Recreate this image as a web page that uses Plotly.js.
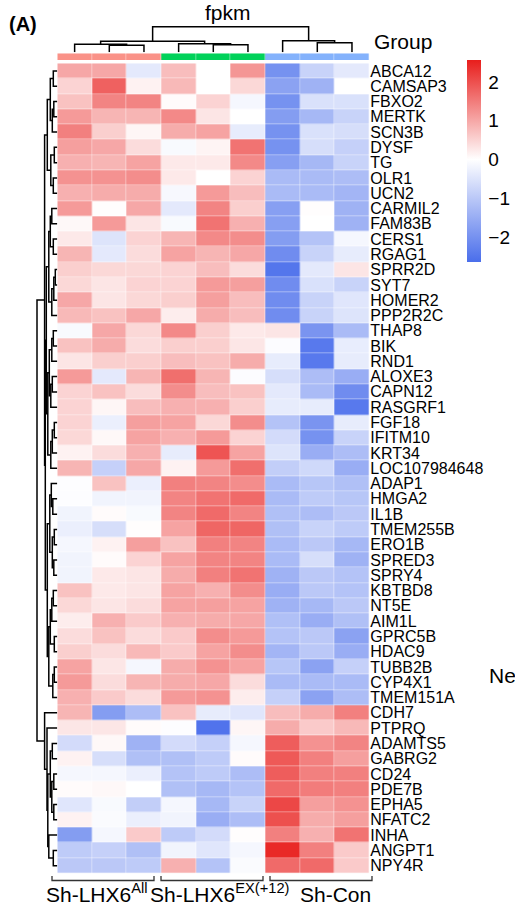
<!DOCTYPE html>
<html><head><meta charset="utf-8">
<script src="https://cdn.plot.ly/plotly-3.0.1.min.js"></script>
<style>html,body{margin:0;padding:0;background:#fff;}#chart{width:515px;height:911px;}</style>
</head><body><div id="chart"></div>
<script>
// ---------------- data ----------------
const genes = ['ABCA12','CAMSAP3','FBXO2','MERTK','SCN3B','DYSF','TG','OLR1','UCN2','CARMIL2',
 'FAM83B','CERS1','RGAG1','SPRR2D','SYT7','HOMER2','PPP2R2C','THAP8','BIK','RND1',
 'ALOXE3','CAPN12','RASGRF1','FGF18','IFITM10','KRT34','LOC107984648','ADAP1','HMGA2','IL1B',
 'TMEM255B','ERO1B','SPRED3','SPRY4','KBTBD8','NT5E','AIM1L','GPRC5B','HDAC9','TUBB2B',
 'CYP4X1','TMEM151A','CDH7','PTPRQ','ADAMTS5','GABRG2','CD24','PDE7B','EPHA5','NFATC2',
 'INHA','ANGPT1','NPY4R'];
const sampleGroup = [0,0,0,1,1,1,2,2,2];
const groupLabels = ['Sh-LHX6<sup>All</sup>','Sh-LHX6<sup>EX(+12)</sup>','Sh-Con'];
const groupColors = ['#FA9288','#00D25A','#84B2FC'];
const colorbarTicks = [-2,-1,0,1,2];
const colorbarTickText = ['\u22122','\u22121','0','1','2'];

// z-scores per sample (rows in gene order)
const All_1 = [1.0,0.5,0.7,1.15,1.45,1.1,0.9,1.25,0.9,1.15, 0.08,0.25,0.85,0.55,0.45,1.0,0.8,-0.1,0.7,0.3,
 1.15,0.5,0.5,0.5,0.45,0.15,0.85,-0.03,-0.03,-0.2, -0.3,-0.15,-0.2,-0.2,0.7,0.45,0.2,0.4,0.55,1.05,
 1.15,0.9,0.85,0.28,-0.65,0.15,-0.15,0.05,-0.45,0.15, -1.8,-0.95,-1.0];
const All_2 = [1.0,1.8,1.4,0.85,0.55,1.0,0.85,1.25,0.95,0.02, 1.15,-0.5,-0.4,0.45,0.3,0.3,0.7,1.0,0.95,0.55,
 -0.4,0.7,0.1,-0.3,0.08,0.4,-0.85,0.7,-0.2,0.05, -0.6,0.15,0.05,0.25,0.25,0.3,0.9,0.7,0.4,0.28,
 0.4,0.6,-1.8,0.28,0.08,-0.6,-0.15,0.08,-0.1,-0.08, -0.15,-0.85,-1.0];
const All_3 = [-0.4,0.15,1.4,0.85,0.1,0.4,1.05,1.3,0.95,1.0, 0.3,0.5,0.4,0.45,0.5,0.45,1.0,0.45,0.4,0.55,
 0.85,0.4,0.75,1.1,1.05,0.9,1.0,-0.3,-0.2,-0.1, 0.02,1.1,0.5,0.3,0.3,0.4,0.6,0.4,0.8,-0.15,
 0.85,0.4,-1.2,0.05,-1.4,-1.15,-0.3,0,-0.9,-0.3, 0.6,-1.15,-0.95];
const EX_1 = [0.75,0.8,0.05,1.35,0.95,-0.1,0.25,0.25,-0.12,-0.4, -0.1,0.85,1.05,0.5,0.5,0.55,0.2,1.35,0.55,0.75,
 1.65,1.3,0.9,1.05,0.9,-0.35,0.15,1.45,1.4,1.4, 1.05,0.7,1.05,0.95,1.05,1.05,0.9,0.6,0.6,0.95,
 0.95,1.15,0.7,-0.03,-0.65,-1.15,-1.1,-1.15,-0.15,-0.2, -0.95,-0.2,0.9];
const EX_2 = [0,0,0.5,0.3,1.05,0.12,0.25,0,1.15,1.4, 1.6,1.35,0.85,0.75,1.15,1.1,0.95,0.55,0.55,0.7,
 0.85,0.75,0.9,0.45,1.15,1.95,1.15,1.4,1.6,1.7, 1.75,1.45,1.4,1.45,0.9,1.1,0.95,1.3,1.05,1.25,
 1.0,1.25,-0.35,-2.55,-0.85,-0.95,-0.95,-1.3,-1.3,-1.5, -0.65,-0.45,-1.1];
const EX_3 = [1.2,0.45,-0.15,0,-0.35,1.6,1.35,0.5,0.75,0.55, 0.9,1.3,1.0,0.4,1.1,0.75,0.75,0.25,0.28,0.95,
 -0.05,0.7,0.55,1.3,0.5,1.05,1.65,1.3,1.7,1.4, 1.75,1.4,1.4,1.6,1.3,1.05,1.0,1.15,1.3,1.05,
 0.4,0.2,-0.45,0.1,-0.15,0.05,-1.2,-1.1,-0.8,-1.2, 0.02,-0.15,-0.08];
const Con_1 = [-2.0,-1.7,-2.0,-1.8,-2.0,-2.0,-1.75,-1.25,-1.25,-1.75, -1.75,-1.8,-2.1,-2.5,-2.1,-2.1,-2.1,0.3,-0.05,-0.35,
 -0.6,-0.4,-0.35,-1.1,-0.65,-0.5,-0.9,-1.25,-1.25,-1.15, -1.15,-1.25,-1.25,-1.4,-1.5,-1.4,-1.15,-1.1,-1.35,-1.05,
 -1.25,-0.85,0.75,0.95,1.85,1.9,1.85,1.7,2.1,2.0, 1.45,2.45,1.7];
const Con_2 = [-0.8,-1.4,-0.55,-1.3,-0.55,-0.6,-1.3,-1.25,-1.25,0.02, 0,-1.1,-0.8,-0.4,-0.55,-0.8,-0.8,-1.95,-2.45,-2.45,
 -1.2,-1.25,-0.35,-1.95,-2.0,-1.5,-0.7,-1.05,-0.95,-1.2, -0.8,-1.0,-0.6,-1.0,-1.0,-1.3,-1.5,-1.0,-1.0,-1.7,
 -1.25,-1.7,0.95,0.6,1.25,1.45,1.45,1.5,1.1,0.95, 0.9,1.45,1.7];
const Con_3 = [-0.4,0,-0.55,-0.8,-0.6,-0.85,-0.8,-1.2,-1.35,-1.4, -1.4,-0.15,-0.35,0.3,-0.8,-0.45,-0.5,-1.25,-0.33,-0.35,
 -1.5,-2.1,-2.45,-0.35,-0.8,-1.2,-1.5,-1.15,-1.05,-1.0, -0.95,-1.3,-1.4,-1.1,-1.1,-1.0,-1.15,-1.7,-1.5,-0.85,
 -1.25,-1.2,1.45,0.8,1.4,1.1,1.45,1.45,1.25,1.1, 1.6,0.6,0.6];

// dendrogram trees: [left, right, height]; leaves are row / column indices
const A1 = [[[0,1,4],[[2,3,3.5],4,5],7],[[5,6,3],[7,8,4],6.5],10];
const A2 = [[[9,10,5.5],[11,12,4],7],[[[13,14,2],15,3.5],16,5.5],8.5];
const A3 = [[[[17,18,4],19,5.5],[[20,21,5],22,6.5],8],[[[23,24,3],25,5],26,6.5],9.5];
const A4 = [[[27,[28,29,4.5],6],[[30,31,3],[32,33,3.5],5],7.5],[[[[34,35,4],36,5.5],[37,38,3],7],[[39,40,3],41,4.5],8.5],10];
const clusterA = [A1,[[A2,A3,11],A4,12],12.7];
const clusterB = [42,[43,[[[44,45,5],[[46,47,3.5],[48,49,3.5],5.5],7],[50,[51,52,4],8.5],9.5],10.3],12.7];
const rowTree = [clusterA, clusterB, 20.3];
const colTree = [[[0,[1,2,7],8],[3,[4,5,7.5],8.5],11],[6,[7,8,9.6],11.6],25.6];

// ---------------- build ----------------
const W = 515, H = 911;
const fx = p => p / W, fy = p => 1 - p / H;
const FONT = 'Liberation Sans, Arial, Helvetica, sans-serif';
const sampleCols = [All_1, All_2, All_3, EX_1, EX_2, EX_3, Con_1, Con_2, Con_3];
const z = genes.map((g, i) => sampleCols.map(c => c[i]));
const zmin = -2.65, zmax = 2.57, mid = -zmin / (zmax - zmin);

function dendro(node, segs) {
  if (typeof node === 'number') return {p: node, h: 0};
  const L = dendro(node[0], segs), R = dendro(node[1], segs), h = node[2];
  segs.push([[L.p, L.h], [L.p, h], [R.p, h], [R.p, R.h]]);
  return {p: (L.p + R.p) / 2, h: h};
}
const rowSegs = [], colSegs = [];
dendro(rowTree, rowSegs); dendro(colTree, colSegs);
const rdx = [], rdy = [], cdx = [], cdy = [];
rowSegs.forEach(s => { s.forEach(pt => { rdx.push(pt[1]); rdy.push(pt[0]); }); rdx.push(null); rdy.push(null); });
colSegs.forEach(s => { s.forEach(pt => { cdx.push(pt[0]); cdy.push(pt[1]); }); cdx.push(null); cdy.push(null); });

const traces = [
  {type:'heatmap', z: z, x: sampleCols.map((c,j)=>j), y: genes.map((g,i)=>i), xaxis:'x', yaxis:'y',
   zmin: zmin, zmax: zmax, xgap:0.4, ygap:0.4,
   colorscale: [[0,'#4A6EEB'],[mid,'#FFFFFF'],[1,'#E81E1C']],
   colorbar: {x: fx(467), xanchor:'left', xref:'paper', y: fy(60), yanchor:'top', yref:'paper',
     len: 202, lenmode:'pixels', thickness: 14, thicknessmode:'pixels', outlinewidth: 0, xpad:0, ypad:0,
     tickmode:'array', tickvals: colorbarTicks, ticktext: colorbarTickText, ticks:'outside', ticklen:4,
     tickcolor:'rgba(0,0,0,0)', tickfont:{family: FONT, size: 19, color:'#000'}}},
  {type:'heatmap', z: [sampleGroup], x: sampleGroup.map((g,j)=>j), y:[0], xaxis:'x', yaxis:'y2',
   zmin:0, zmax:2, showscale:false, xgap:0.4,
   colorscale: [[0,groupColors[0]],[0.333,groupColors[0]],[0.334,groupColors[1]],[0.666,groupColors[1]],[0.667,groupColors[2]],[1,groupColors[2]]]},
  {type:'scatter', mode:'lines', x: rdx, y: rdy, xaxis:'x3', yaxis:'y', cliponaxis:false,
   line:{color:'#000', width:1.5}, hoverinfo:'skip', connectgaps:false},
  {type:'scatter', mode:'lines', x: cdx, y: cdy, xaxis:'x', yaxis:'y4', cliponaxis:false,
   line:{color:'#000', width:1.5}, hoverinfo:'skip', connectgaps:false}
];

const hidden = {showgrid:false, zeroline:false, showticklabels:false, ticks:'', showline:false};
const annBase = {showarrow:false, xref:'paper', yref:'paper', xanchor:'left', yanchor:'bottom', borderpad:1};
function ann(text, leftPx, baselinePx, size, extra) {
  return Object.assign({}, annBase, {text: text, x: fx(leftPx - 1), y: fy(baselinePx + 0.212*size + 1),
    font:{family: FONT, size: size, color:'#000'}}, extra || {});
}
const annotations = [
  ann('<b>(A)</b>', 8, 31.5, 20),
  ann('fpkm', 204, 21, 21),
  ann('Group', 372.5, 50, 21),
  ann('Ne', 488, 684, 21),
  ann(groupLabels[0], 45, 902.7, 21),
  ann(groupLabels[1], 149, 902.7, 21),
  ann(groupLabels[2], 299, 902.7, 21)
];
function bracket(x0, x1) {
  return {type:'path', xref:'paper', yref:'paper', line:{color:'#333', width:1.3},
    path: 'M'+fx(x0)+','+fy(876)+' L'+fx(x0)+','+fy(880.5)+' L'+fx(x1)+','+fy(880.5)+' L'+fx(x1)+','+fy(876)};
}

const layout = {
  width: W, height: H, margin:{l:0,r:0,t:0,b:0,pad:0},
  paper_bgcolor:'#fff', plot_bgcolor:'rgba(0,0,0,0)', showlegend:false,
  font:{family: FONT, color:'#000'},
  xaxis: Object.assign({domain:[fx(57.3), fx(369.3)], range:[-0.5, 8.5], anchor:'y', fixedrange:true}, hidden),
  yaxis: {domain:[fy(873.3), fy(63.3)], range:[52.5,-0.5], side:'right', anchor:'x', tickmode:'array',
          tickvals: genes.map((g,i)=>i), ticktext: genes, ticks:'', showgrid:false, zeroline:false, showline:false,
          tickfont:{family: FONT, size:16, color:'#000'}, fixedrange:true},
  yaxis2: Object.assign({domain:[fy(60), fy(53.3)], range:[-0.5,0.5], anchor:'x'}, hidden),
  xaxis3: Object.assign({domain:[0, fx(57.3)], range:[57.3, 0], anchor:'y'}, hidden),
  yaxis4: Object.assign({domain:[fy(52.3), fy(20)], range:[0, 32.3], anchor:'x'}, hidden),
  annotations: annotations,
  shapes: [bracket(52,154), bracket(161,263), bracket(270,372)]
};
Plotly.newPlot('chart', traces, layout, {displayModeBar:false, staticPlot:true});
</script></body></html>
